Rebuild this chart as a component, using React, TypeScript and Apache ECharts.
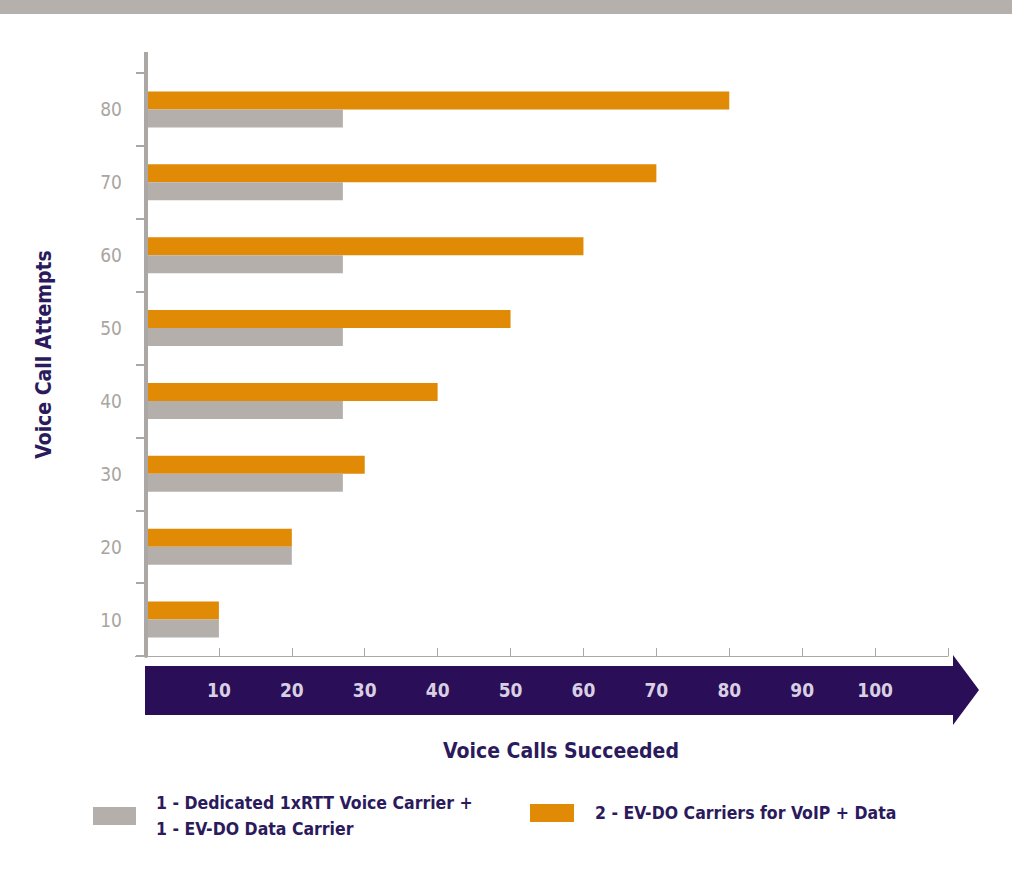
import React, { useEffect, useRef } from "react";
import * as echarts from "echarts";

// Voice call capacity: attempts vs. succeeded for two carrier configurations
const attempts = ["10", "20", "30", "40", "50", "60", "70", "80"];
const dedicatedCarrier = [10, 20, 27, 27, 27, 27, 27, 27];
const evdoCarriers = [10, 20, 30, 40, 50, 60, 70, 80];
const succeededTicks = [10, 20, 30, 40, 50, 60, 70, 80, 90, 100];

const dedicatedName = "1 - Dedicated 1xRTT Voice Carrier +\n1 - EV-DO Data Carrier";
const evdoName = "2 - EV-DO Carriers for VoIP + Data";

const FONT = "'Liberation Sans Narrow', 'DejaVu Sans Condensed', 'Arial Narrow', sans-serif";
const NAVY = "#2b1a5c";
const PURPLE = "#2a0e58";
const ORANGE = "#e08a06";
const GREY = "#b4afab";
const AXIS = "#aaa7a4";

// grid geometry
const G_LEFT = 146;
const G_TOP = 73;
const G_RIGHT = 68;
const G_BOTTOM = 215;

export default function App() {
  const ref = useRef<HTMLDivElement>(null);

  useEffect(() => {
    document.body.style.margin = "0";
    const chart = echarts.init(ref.current!, undefined, { renderer: "svg" });
    const W = 1016;
    const H = 871;
    const baseY = H - G_BOTTOM;
    const bandEnd = W - G_RIGHT + 5;

    chart.setOption({
      animation: false,
      backgroundColor: "#ffffff",
      textStyle: { fontFamily: FONT },
      grid: { left: G_LEFT, top: G_TOP, right: G_RIGHT, bottom: G_BOTTOM },
      legend: [
        {
          data: [dedicatedName],
          left: 93,
          top: 790,
          padding: 0,
          itemWidth: 43,
          itemHeight: 18,
          icon: "rect",
          selectedMode: false,
          textStyle: {
            color: NAVY,
            fontFamily: FONT,
            fontWeight: "bold",
            fontSize: 17.5,
            lineHeight: 26,
            padding: [0, 0, 0, 15],
          },
        },
        {
          data: [evdoName],
          left: 530,
          top: 804,
          padding: 0,
          itemWidth: 44,
          itemHeight: 18,
          icon: "rect",
          selectedMode: false,
          textStyle: {
            color: NAVY,
            fontFamily: FONT,
            fontWeight: "bold",
            fontSize: 17.5,
            padding: [0, 0, 0, 16],
          },
        },
      ],
      xAxis: {
        type: "value",
        min: 0,
        max: 110,
        interval: 10,
        z: 10,
        name: "Voice Calls Succeeded",
        nameLocation: "middle",
        nameGap: 84,
        nameTextStyle: {
          color: NAVY,
          fontFamily: FONT,
          fontWeight: "bold",
          fontSize: 21,
          padding: [0, 0, 0, 28],
        },
        axisLine: { show: true, lineStyle: { color: AXIS, width: 1 } },
        axisTick: { show: true, inside: true, length: 8, lineStyle: { color: AXIS } },
        splitLine: { show: false },
        axisLabel: {
          margin: 24,
          color: "#d8d0e2",
          fontFamily: FONT,
          fontWeight: "bold",
          fontSize: 19,
          formatter: (v: number) => (succeededTicks.includes(v) ? String(v) : ""),
        },
      },
      yAxis: {
        type: "category",
        data: attempts,
        z: 5,
        name: "Voice Call Attempts",
        nameLocation: "middle",
        nameRotate: 90,
        nameGap: 92,
        nameTextStyle: {
          color: NAVY,
          fontFamily: FONT,
          fontWeight: "bold",
          fontSize: 21,
          padding: [0, 0, 0, 20],
        },
        axisLine: { show: true, lineStyle: { color: AXIS, width: 4 } },
        axisTick: { show: true, length: 10, lineStyle: { color: AXIS, width: 2 } },
        axisLabel: {
          margin: 24,
          color: "#a9a5a1",
          fontFamily: FONT,
          fontSize: 19,
        },
      },
      series: [
        {
          name: evdoName,
          type: "bar",
          data: evdoCarriers,
          barWidth: 18,
          barGap: "0%",
          itemStyle: { color: ORANGE },
        },
        {
          name: dedicatedName,
          type: "bar",
          data: dedicatedCarrier,
          barWidth: 18,
          barGap: "0%",
          itemStyle: { color: GREY },
        },
      ],
      graphic: [
        // header strip
        {
          type: "rect",
          shape: { x: 0, y: 0, width: 1012, height: 14 },
          style: { fill: "#b5b0ac" },
          silent: true,
        },
        // y-axis line extension above the top band
        {
          type: "line",
          shape: { x1: G_LEFT, y1: 52, x2: G_LEFT, y2: G_TOP },
          style: { stroke: AXIS, lineWidth: 4 },
          silent: true,
        },
        // x-axis baseline extension to the left
        {
          type: "line",
          shape: { x1: 135, y1: baseY + 0.5, x2: G_LEFT, y2: baseY + 0.5 },
          style: { stroke: AXIS, lineWidth: 1 },
          silent: true,
        },
        // arrow band behind the x-axis labels
        {
          type: "polygon",
          z: 1,
          shape: {
            points: [
              [145, baseY + 10],
              [bandEnd, baseY + 10],
              [bandEnd, baseY - 1],
              [bandEnd + 26, baseY + 34],
              [bandEnd, baseY + 69],
              [bandEnd, baseY + 59],
              [145, baseY + 59],
            ],
          },
          style: { fill: PURPLE },
          silent: true,
        },
      ],
    });

    return () => chart.dispose();
  }, []);

  return <div ref={ref} style={{ width: 1016, height: 871 }} />;
}
